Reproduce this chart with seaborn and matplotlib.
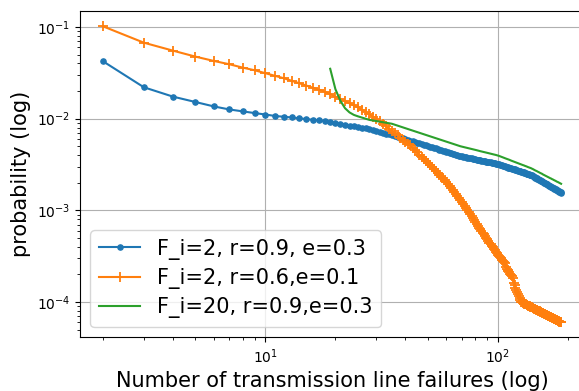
import matplotlib
matplotlib.use("Agg")
import matplotlib.pyplot as plt
import seaborn as sns
import pandas as pd

# ---- data ----
failures = list(range(2, 188))
green_failures = list(range(19, 188))

prob_fi2_r09_e03 = [
    0.0423, 0.0220, 0.0174, 0.0152, 0.0136, 0.0126, 0.0120, 0.0115, 0.0111,  # 2-10
    0.0107, 0.0105, 0.0103, 0.01009, 0.00989, 0.00972, 0.00955, 0.0094, 0.00917, 0.00896,  # 11-20
    0.00877, 0.00858, 0.00841, 0.00825, 0.0081, 0.00796, 0.00783, 0.0077, 0.00752, 0.00734,  # 21-30
    0.00718, 0.00702, 0.00688, 0.00674, 0.0066, 0.00646, 0.00634, 0.00621, 0.0061, 0.00598,  # 31-40
    0.00588, 0.00577, 0.00567, 0.00558, 0.00549, 0.0054, 0.00531, 0.00522, 0.00513, 0.00505,  # 41-50
    0.00497, 0.0049, 0.00482, 0.00475, 0.00468, 0.00461, 0.00455, 0.00449, 0.00443, 0.00437,  # 51-60
    0.00431, 0.00425, 0.0042, 0.00415, 0.0041, 0.00405, 0.004, 0.00395, 0.0039, 0.00387,  # 61-70
    0.00384, 0.00381, 0.00379, 0.00376, 0.00373, 0.00371, 0.00368, 0.00365, 0.00363, 0.00361,  # 71-80
    0.00358, 0.00356, 0.00354, 0.00351, 0.00349, 0.00347, 0.00345, 0.00343, 0.00341, 0.00339,  # 81-90
    0.00337, 0.00335, 0.00333, 0.00331, 0.00329, 0.00327, 0.00326, 0.00324, 0.00322, 0.0032,  # 91-100
    0.00317, 0.00315, 0.00312, 0.0031, 0.00307, 0.00305, 0.00302, 0.003, 0.00298, 0.00296,  # 101-110
    0.00293, 0.00291, 0.00289, 0.00287, 0.00285, 0.00283, 0.00281, 0.00279, 0.00277, 0.00275,  # 111-120
    0.00273, 0.00271, 0.00269, 0.00267, 0.00266, 0.00264, 0.00262, 0.0026, 0.00259, 0.00257,  # 121-130
    0.00255, 0.00254, 0.00252, 0.00251, 0.00249, 0.00247, 0.00246, 0.00244, 0.00243, 0.0024,  # 131-140
    0.00238, 0.00235, 0.00233, 0.00231, 0.00228, 0.00226, 0.00224, 0.00221, 0.00219, 0.00217,  # 141-150
    0.00215, 0.00213, 0.00211, 0.00209, 0.00207, 0.00205, 0.00203, 0.00201, 0.00199, 0.00197,  # 151-160
    0.00195, 0.00193, 0.00192, 0.0019, 0.00188, 0.00186, 0.00185, 0.00183, 0.00181, 0.0018,  # 161-170
    0.00178, 0.00177, 0.00175, 0.00174, 0.00172, 0.00171, 0.00169, 0.00168, 0.00167, 0.00165,  # 171-180
    0.00164, 0.00162, 0.00161, 0.0016, 0.00159, 0.00157, 0.00156,  # 181-187
]

prob_fi2_r06_e01 = [
    0.1017, 0.0674, 0.0552, 0.0475, 0.0426, 0.0392, 0.0360, 0.0337, 0.0313,  # 2-10
    0.0293, 0.0276, 0.0258, 0.0243, 0.02297, 0.0218, 0.02069, 0.0197, 0.01847, 0.01737,  # 11-20
    0.01638, 0.0155, 0.0147, 0.01396, 0.0133, 0.01251, 0.01179, 0.01114, 0.01055, 0.0100,  # 21-30
    0.00937, 0.00879, 0.00826, 0.00779, 0.00735, 0.00694, 0.00657, 0.00623, 0.00592, 0.00563,  # 31-40
    0.00535, 0.0051, 0.00481, 0.00453, 0.00428, 0.00405, 0.00384, 0.00364, 0.00345, 0.00328,  # 41-50
    0.00312, 0.00297, 0.00283, 0.0027, 0.00257, 0.00245, 0.00234, 0.00223, 0.00213, 0.00204,  # 51-60
    0.00195, 0.00185, 0.00175, 0.00166, 0.00158, 0.0015, 0.00143, 0.00136, 0.00129, 0.00123,  # 61-70
    0.00117, 0.00112, 0.00106, 0.00101, 0.000957, 0.00091, 0.000866, 0.000824, 0.000784, 0.000747,  # 71-80
    0.000713, 0.00068, 0.000649, 0.00062, 0.000594, 0.000569, 0.000546, 0.000524, 0.000503, 0.000483,  # 81-90
    0.000464, 0.000446, 0.000429, 0.000413, 0.000397, 0.000382, 0.000368, 0.000355, 0.000342, 0.00033,  # 91-100
    0.00032, 0.000309, 0.0003, 0.000291, 0.000282, 0.000273, 0.000265, 0.00024, 0.000232, 0.000225,  # 101-110
    0.000217, 0.000211, 0.000204, 0.000198, 0.000191, 0.000185, 0.00016, 0.000152, 0.000144, 0.000136,  # 111-120
    0.000129, 0.000123, 0.000117, 0.000111, 0.000105, 0.0001, 9.90e-5, 9.80e-5, 9.70e-5, 9.60e-5,  # 121-130
    9.51e-5, 9.42e-5, 9.32e-5, 9.23e-5, 9.15e-5, 9.06e-5, 8.97e-5, 8.89e-5, 8.81e-5, 8.73e-5,  # 131-140
    8.65e-5, 8.57e-5, 8.49e-5, 8.41e-5, 8.34e-5, 8.26e-5, 8.19e-5, 8.12e-5, 8.05e-5, 7.98e-5,  # 141-150
    7.91e-5, 7.84e-5, 7.78e-5, 7.71e-5, 7.65e-5, 7.58e-5, 7.52e-5, 7.46e-5, 7.40e-5, 7.34e-5,  # 151-160
    7.28e-5, 7.22e-5, 7.17e-5, 7.11e-5, 7.05e-5, 7.00e-5, 6.94e-5, 6.89e-5, 6.84e-5, 6.79e-5,  # 161-170
    6.73e-5, 6.68e-5, 6.63e-5, 6.58e-5, 6.54e-5, 6.49e-5, 6.44e-5, 6.39e-5, 6.35e-5, 6.30e-5,  # 171-180
    6.26e-5, 6.21e-5, 6.17e-5, 6.12e-5, 6.08e-5, 6.04e-5, 6.00e-5,  # 181-187
]

prob_fi20_r09_e03 = [
    0.0350, 0.0210,  # 19-20
    0.0157, 0.0130, 0.0117, 0.0110, 0.0106, 0.01028, 0.00998, 0.0097, 0.00955, 0.00941,  # 21-30
    0.00928, 0.00915, 0.00903, 0.00891, 0.0088, 0.0086, 0.0084, 0.00821, 0.00804, 0.00787,  # 31-40
    0.00771, 0.00755, 0.00741, 0.00727, 0.00713, 0.0070, 0.00688, 0.00676, 0.00664, 0.00653,  # 41-50
    0.00643, 0.00632, 0.00622, 0.00613, 0.00604, 0.00595, 0.00586, 0.00578, 0.00569, 0.00561,  # 51-60
    0.00554, 0.00546, 0.00539, 0.00532, 0.00525, 0.00519, 0.00512, 0.00506, 0.0050, 0.00496,  # 61-70
    0.00491, 0.00487, 0.00483, 0.00479, 0.00475, 0.00471, 0.00467, 0.00463, 0.0046, 0.00456,  # 71-80
    0.00453, 0.00449, 0.00446, 0.00442, 0.00439, 0.00436, 0.00433, 0.0043, 0.00427, 0.00424,  # 81-90
    0.00421, 0.00418, 0.00415, 0.00413, 0.0041, 0.00407, 0.00405, 0.00402, 0.00399, 0.00397,  # 91-100
    0.00393, 0.00389, 0.00386, 0.00382, 0.00379, 0.00375, 0.00372, 0.00368, 0.00365, 0.00362,  # 101-110
    0.00359, 0.00356, 0.00352, 0.00349, 0.00346, 0.00344, 0.00341, 0.00338, 0.00335, 0.00332,  # 111-120
    0.0033, 0.00327, 0.00324, 0.00322, 0.00319, 0.00317, 0.00314, 0.00312, 0.0031, 0.00307,  # 121-130
    0.00305, 0.00303, 0.00301, 0.00298, 0.00296, 0.00294, 0.00292, 0.0029, 0.00288, 0.00285,  # 131-140
    0.00283, 0.0028, 0.00277, 0.00275, 0.00272, 0.0027, 0.00268, 0.00265, 0.00263, 0.00261,  # 141-150
    0.00258, 0.00256, 0.00254, 0.00252, 0.0025, 0.00247, 0.00245, 0.00243, 0.00241, 0.00239,  # 151-160
    0.00237, 0.00235, 0.00234, 0.00232, 0.0023, 0.00228, 0.00226, 0.00224, 0.00223, 0.00221,  # 161-170
    0.00219, 0.00218, 0.00216, 0.00214, 0.00213, 0.00211, 0.0021, 0.00208, 0.00206, 0.00205,  # 171-180
    0.00204, 0.00202, 0.00201, 0.00199, 0.00198, 0.00196, 0.00195,  # 181-187
]

labels = ["F_i=2, r=0.9, e=0.3", "F_i=2, r=0.6,e=0.1", "F_i=20, r=0.9,e=0.3"]

# ---- figure ----
fig = plt.figure(figsize=(5.79, 3.91), dpi=100)
ax = fig.add_axes([80 / 579, 0.1376, 504 / 579, 0.833])

sns.lineplot(x=failures, y=prob_fi2_r09_e03, ax=ax, color="C0", marker=".",
             markersize=7.5, markeredgecolor="C0", markerfacecolor="C0",
             markeredgewidth=1.0, label=labels[0], sort=False)
sns.lineplot(x=failures, y=prob_fi2_r06_e01, ax=ax, color="C1", marker="+",
             markersize=6.5, markeredgecolor="C1", markeredgewidth=1.3,
             label=labels[1], sort=False)
sns.lineplot(x=green_failures, y=prob_fi20_r09_e03, ax=ax, color="C2",
             label=labels[2], sort=False)

ax.set_xscale("log")
ax.set_yscale("log")
ax.grid(True)
ax.set_xlabel("Number of transmission line failures (log)", fontsize=15)
ax.set_ylabel("probability (log)", fontsize=15)
ax.legend(loc="lower left", fontsize=15, labelspacing=0.4)

fig.savefig("out.png", dpi=100)
